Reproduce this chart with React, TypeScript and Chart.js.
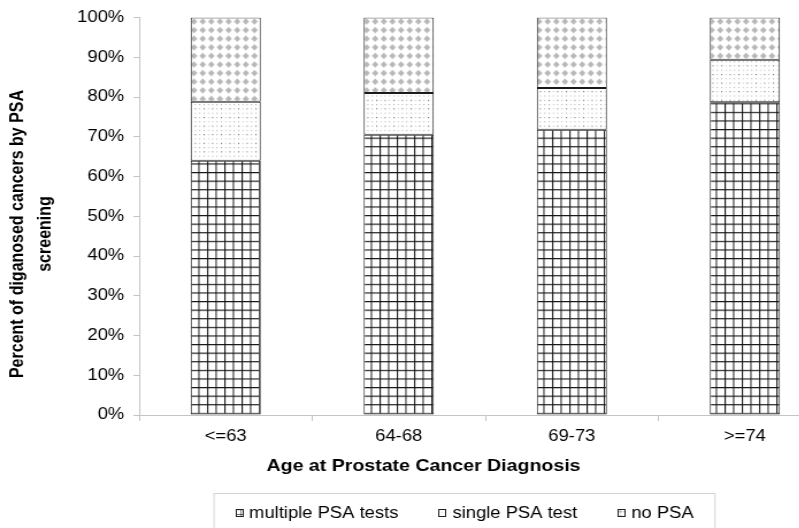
import React, { useEffect, useRef } from "react";
import { Chart, registerables } from "chart.js";

Chart.register(...registerables);

const categories = ["<=63", "64-68", "69-73", ">=74"];
const multiplePSA = [64.0, 70.5, 71.8, 78.7];
const singlePSA = [14.8, 10.5, 10.5, 10.7];
const noPSA = [21.2, 19.0, 17.7, 10.6];
const seriesNames = ["multiple PSA tests", "single PSA test", "no PSA"];
const yTicks = [0, 10, 20, 30, 40, 50, 60, 70, 80, 90, 100];

const SX = 1.15; // horizontal stretch of the reference image
const W = 735;
const H = 528;
const FONT = "'Liberation Sans', Arial, sans-serif";

function tile(draw: (c: CanvasRenderingContext2D) => void): HTMLCanvasElement {
  const cv = document.createElement("canvas");
  cv.width = 10;
  cv.height = 10;
  const c = cv.getContext("2d")!;
  c.fillStyle = "#ffffff";
  c.fillRect(0, 0, 10, 10);
  draw(c);
  return cv;
}

function makeTiles() {
  const grid = tile((c) => {
    c.fillStyle = "#111111";
    c.fillRect(0, 0, 10, 1.3);
    c.fillRect(0, 0, 1.3, 10);
  });
  const dots = tile((c) => {
    c.fillStyle = "#b0b0b0";
    c.fillRect(1, 1, 1.2, 1.2);
    c.fillRect(6, 1, 1.2, 1.2);
    c.fillRect(1, 6, 1.2, 1.2);
    c.fillStyle = "#555555";
    c.fillRect(6, 6, 1.2, 1.2);
  });
  const diamonds = tile((c) => {
    c.fillStyle = "#b8b8b8";
    c.beginPath();
    c.moveTo(5, 1.2);
    c.lineTo(8.8, 5);
    c.lineTo(5, 8.8);
    c.lineTo(1.2, 5);
    c.closePath();
    c.fill();
  });
  return [grid, dots, diamonds];
}

function makePatterns(ctx: CanvasRenderingContext2D, sx: number, sy: number, ox = 0, oy = 0) {
  const m = new DOMMatrix([sx, 0, 0, sy, ox, oy]);
  return makeTiles().map((t) => {
    const p = ctx.createPattern(t, "repeat")!;
    p.setTransform(m);
    return p;
  });
}

const extrasPlugin = {
  id: "extras",
  afterDraw(chart: any) {
    const ctx: CanvasRenderingContext2D = chart.ctx;
    ctx.save();
    ctx.fillStyle = "#000";
    // Y title (two lines, rotated)
    ctx.font = `bold 16px ${FONT}`;
    ctx.textAlign = "center";
    ctx.textBaseline = "middle";
    const yLines = ["Percent of diganosed cancers by PSA", "screening"];
    const yPos = [15.4, 39.6];
    yLines.forEach((t, i) => {
      ctx.save();
      ctx.translate(yPos[i], 234);
      ctx.rotate(-Math.PI / 2);
      ctx.fillText(t, 0, 0);
      ctx.restore();
    });
    // X title
    ctx.font = `bold 17px ${FONT}`;
    ctx.fillText("Age at Prostate Cancer Diagnosis", 368.3, 466);

    // Legend
    const lx0 = 186.1, lx1 = 621.7, ly0 = 493.5;
    ctx.strokeStyle = "#d4d4d4";
    ctx.lineWidth = 1;
    ctx.strokeRect(lx0, ly0, lx1 - lx0, 60);
    ctx.font = `16px ${FONT}`;
    ctx.textAlign = "left";
    const boxW = 7, boxH = 8, boxGap = 5, itemGap = 35;
    const widths = seriesNames.map((n) => ctx.measureText(n).width);
    const total = widths.reduce((a, b) => a + b, 0) + seriesNames.length * (boxW + boxGap) + itemGap * (seriesNames.length - 1);
    let x = (lx0 + lx1) / 2 - total / 2;
    const cy = 513;
    seriesNames.forEach((name, i) => {
      const bx = Math.round(x);
      const by = Math.round(cy - boxH / 2);
      const pats = makePatterns(ctx, 0.4, 0.45, bx + 0.5, by + 0.5);
      ctx.fillStyle = pats[i];
      ctx.fillRect(bx, by, boxW, boxH);
      ctx.strokeStyle = "#222";
      ctx.strokeRect(bx + 0.5, by + 0.5, boxW - 1, boxH - 1);
      ctx.fillStyle = "#000";
      ctx.fillText(name, x + boxW + boxGap, cy + 1);
      x += boxW + boxGap + widths[i] + itemGap;
    });
    ctx.restore();
  },
};

export default function App() {
  const ref = useRef<HTMLCanvasElement>(null);
  useEffect(() => {
    const canvas = ref.current!;
    const ctx = canvas.getContext("2d")!;
    const [pGrid, pDots, pDiam] = makePatterns(ctx, 0.75, 0.86);
    const axisColor = "#c4c4c4";
    const common = {
      borderColor: "#1a1a1a",
      borderWidth: 1,
      borderSkipped: false,
      barPercentage: 0.405,
      categoryPercentage: 1,
    };
    const chart = new Chart(canvas, {
      type: "bar",
      data: {
        labels: categories,
        datasets: [
          { label: seriesNames[0], data: multiplePSA, backgroundColor: pGrid, ...common },
          { label: seriesNames[1], data: singlePSA, backgroundColor: pDots, ...common },
          { label: seriesNames[2], data: noPSA, backgroundColor: pDiam, ...common },
        ] as any,
      },
      options: {
        responsive: false,
        devicePixelRatio: 1,
        animation: false,
        layout: { padding: { top: 14, right: 12, bottom: 0, left: 0 } },
        plugins: { legend: { display: false }, tooltip: { enabled: false } },
        scales: {
          x: {
            stacked: true,
            grid: { drawOnChartArea: false, drawTicks: true, tickLength: 6, color: axisColor, offset: true },
            border: { color: axisColor },
            ticks: { color: "#000", font: { size: 16, family: FONT }, padding: 6, maxRotation: 0, autoSkip: false },
            afterFit: (s: any) => { s.height = 113; },
          },
          y: {
            stacked: true,
            min: 0,
            max: 100,
            afterBuildTicks: (s: any) => { s.ticks = yTicks.map((v) => ({ value: v })); },
            grid: { drawOnChartArea: false, drawTicks: true, tickLength: 5, color: axisColor },
            border: { color: axisColor },
            ticks: { color: "#000", font: { size: 16, family: FONT }, padding: 8, callback: (v: any) => `${v}%` },
            afterFit: (s: any) => { s.width = 121; },
          },
        },
      },
      plugins: [extrasPlugin],
    });
    return () => chart.destroy();
  }, []);
  return (
    <div style={{ position: "fixed", left: 0, top: 0, width: 799, height: 528, overflow: "hidden", background: "#fff" }}>
      <canvas
        ref={ref}
        width={W}
        height={H}
        style={{ display: "block", width: W, height: H, transform: `scaleX(${SX})`, transformOrigin: "0 0" }}
      />
    </div>
  );
}
